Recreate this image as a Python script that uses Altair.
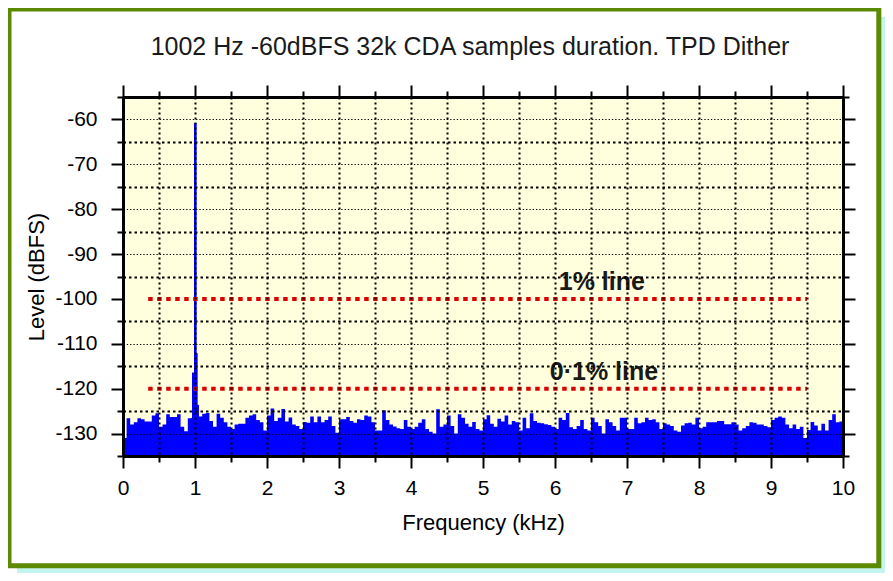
import altair as alt
import pandas as pd

FONT = "Liberation Sans"

TITLE = "1002 Hz -60dBFS 32k CDA samples duration. TPD Dither"
X_TITLE = "Frequency (kHz)"
Y_TITLE = "Level (dBFS)"

# noise floor, one value per 0.05 kHz bin starting at 0 kHz (dBFS)
bin_step_khz = 0.05
noise_db = [
    -131, -126.6, -128, -127.5, -126.6, -126.8, -127.3, -127.3, -126, -125.5,
    -128.5, -128, -125.7, -126.3, -126.3, -125.7, -128.5, -129.5, -126.6, -126.5,
    -126, -126.2, -125.6, -125.4, -127.2, -128.5, -125.6, -126.5, -127.5, -128.5,
    -129, -128, -127.8, -127.8, -126.5, -126, -125.7, -127, -127.5, -129.3,
    -126, -124.4, -127.2, -126.5, -124.5, -127.3, -126.4, -128, -128.3, -129,
    -127.4, -127.6, -126.2, -127.5, -126.2, -127.5, -127, -126.2, -128.3, -129.8,
    -126.8, -126.8, -126.3, -127.2, -127.6, -126.8, -127, -126, -126.2, -127.5,
    -129.3, -129.3, -124.8, -127, -128, -128.4, -128.8, -129, -127, -128.5,
    -129, -128.5, -127.6, -126.8, -129, -129.6, -130, -124.6, -128.5, -128,
    -126, -128.3, -130, -125.7, -126.5, -127.8, -128.5, -127.4, -129, -129.3,
    -126.8, -125.9, -127.8, -128.5, -126.7, -127.3, -126, -128, -127.2, -127.5,
    -129.3, -126.5, -128.8, -125.5, -127.2, -127.6, -127.7, -127.9, -128.1, -128.5,
    -129, -126.5, -127, -125.4, -128.6, -129, -128.3, -127, -129, -129.3,
    -126.5, -127.5, -128.3, -130, -126.8, -127.5, -128.3, -129.3, -126.5, -126.5,
    -129, -129, -126.5, -127.7, -127.5, -126.5, -127, -126.8, -127.5, -129,
    -127.7, -128, -128.3, -129.3, -129.6, -128.2, -127.7, -127.6, -128, -126.5,
    -128.8, -128.5, -127.5, -127.5, -127.5, -127.2, -127.2, -127.9, -127.9, -127.5,
    -128, -129.3, -128.8, -128.3, -127.5, -127.6, -128, -128, -128.3, -128.6,
    -127, -126.5, -126.2, -126.5, -128, -128.8, -128, -129, -128.5, -131,
    -129.2, -127.4, -128.2, -129.3, -127.8, -129.3, -127, -125.7, -127.5, -127.3,
]

# the 1002 Hz tone and its skirt
spike_start_khz = [0.958, 0.986, 1.0, 1.012]
spike_end_khz = [1.0, 1.023, 1.037, 1.055]
spike_db = [-116.4, -60.8, -112.1, -123.6]

# reference lines
ref_db = [-100, -120]
ref_start_khz = [0.35, 0.35]
ref_end_khz = [9.5, 9.5]
ref_labels = ["1% line", "0·1% line"]
ref_label_khz = [6.65, 6.68]

x_ticks = [i * 0.5 for i in range(21)]
y_ticks = list(range(-135, -54, 5))
x_domain = [0, 10]
y_domain = [-135, -55]

noise_df = pd.DataFrame({
    "f": [round(i * bin_step_khz, 3) for i in range(len(noise_db) + 1)],
    "db": noise_db + [noise_db[-1]],
})
spike_df = pd.DataFrame({"s0": spike_start_khz, "s1": spike_end_khz, "db": spike_db})
ref_df = pd.DataFrame({"x0": ref_start_khz, "x1": ref_end_khz, "db": ref_db})
lbl_df = pd.DataFrame({"f": ref_label_khz, "db": ref_db, "label": ref_labels})
one_df = pd.DataFrame({"a": [0]})

xs = alt.Scale(domain=x_domain, nice=False, zero=False)
ys = alt.Scale(domain=y_domain, nice=False, zero=False)

X_MAJOR = "abs(datum.value % 1) < 0.001"
Y_MAJOR = "abs(datum.value % 10) < 0.001"
ON_REF = " || ".join(f"datum.value == {v}" for v in ref_db)

common = dict(domainColor="black", domainWidth=3, tickColor="black", tickWidth=2, zindex=1)

x_bottom = alt.Axis(
    values=x_ticks,
    tickSize=alt.ExprRef(expr=f"{X_MAJOR} ? 12 : 6"),
    labelExpr=f"{X_MAJOR} ? '' + datum.value : ''",
    labelFont=FONT, labelFontSize=21, labelColor="black", labelPadding=9,
    labelFlush=False, labelOverlap=False,
    title=X_TITLE, titleFont=FONT, titleFontSize=22, titleFontWeight="normal",
    titleColor="black", titlePadding=14,
    grid=True, gridColor="black", gridDash=[2, 3], gridWidth=2,
    **common,
)
x_top = alt.Axis(
    orient="top", values=x_ticks,
    tickSize=alt.ExprRef(expr=f"{X_MAJOR} ? 12 : 6"),
    labels=False, title=None, grid=False, **common,
)
y_left = alt.Axis(
    values=y_ticks,
    tickSize=alt.ExprRef(expr=f"{Y_MAJOR} ? 12 : 6"),
    labelExpr=f"{Y_MAJOR} ? '' + datum.value : ''",
    labelFont=FONT, labelFontSize=21, labelColor="black", labelPadding=14,
    labelFlush=False, labelOverlap=False,
    title=Y_TITLE, titleFont=FONT, titleFontSize=22, titleFontWeight="normal",
    titleColor="black", titlePadding=6,
    grid=True, gridColor="black",
    gridDash={"condition": {"test": Y_MAJOR, "value": [1.3, 2]}, "value": [2.5, 3]},
    gridWidth={"condition": {"test": Y_MAJOR, "value": 1.2}, "value": 2},
    gridOpacity={"condition": {"test": ON_REF, "value": 0}, "value": 1},
    **common,
)
y_right = alt.Axis(
    orient="right", values=y_ticks,
    tickSize=alt.ExprRef(expr=f"{Y_MAJOR} ? 12 : 6"),
    labels=False, title=None, grid=False, **common,
)

# decorative outer frame with a soft shadow on the right and bottom
glow_right = alt.Chart(one_df).mark_rule(stroke="#c4f4ef", strokeWidth=9).encode(
    x=alt.value(762), y=alt.value(-80), y2=alt.value(476)
)
glow_bottom = alt.Chart(one_df).mark_rule(stroke="#c4f4ef", strokeWidth=9).encode(
    x=alt.value(-106), x2=alt.value(766), y=alt.value(475)
)
frame = alt.Chart(one_df).mark_rect(filled=False, stroke="#5b8a00", strokeWidth=5).encode(
    x=alt.value(-114), x2=alt.value(755.8), y=alt.value(-88), y2=alt.value(468.7)
)

noise = alt.Chart(noise_df).mark_area(interpolate="step-after", color="#0000ff").encode(
    x=alt.X("f:Q", scale=xs, axis=x_bottom),
    y=alt.Y("db:Q", scale=ys, axis=y_left),
    y2=alt.datum(-135),
)
spike = alt.Chart(spike_df).mark_rect(color="#0000ff").encode(
    x=alt.X("s0:Q", scale=xs, axis=x_top),
    x2="s1:Q",
    y=alt.Y("db:Q", scale=ys, axis=y_right),
    y2=alt.datum(-135),
)
refs = alt.Chart(ref_df).mark_rule(color="#dd0000", strokeWidth=4, strokeDash=[4.5, 4.5]).encode(
    x=alt.X("x0:Q", scale=xs, axis=None),
    x2="x1:Q",
    y=alt.Y("db:Q", scale=ys, axis=None),
)
texts = alt.Chart(lbl_df).mark_text(
    font=FONT, fontSize=25, fontWeight="bold", color="#1a1a1a", baseline="alphabetic", dy=-9,
).encode(
    x=alt.X("f:Q", scale=xs, axis=None),
    y=alt.Y("db:Q", scale=ys, axis=None),
    text="label:N",
)

chart = (
    alt.layer(glow_right, glow_bottom, frame, noise, spike, refs, texts)
    .resolve_axis(x="independent", y="independent")
    .properties(
        width=720,
        height=359,
        padding={"left": 115, "top": 89, "right": 42, "bottom": 117},
        autosize=alt.AutoSizeParams(type="none"),
        background="white",
        title=alt.TitleParams(
            text=TITLE, font=FONT, fontSize=25, fontWeight="normal", color="#1a1a1a",
            anchor="middle", frame="group", dx=-13, offset=-53,
        ),
    )
    .configure_view(fill="#ffffdd", strokeOpacity=0)
)

chart.save("out.html", embed_options={"renderer": "svg", "actions": False})
